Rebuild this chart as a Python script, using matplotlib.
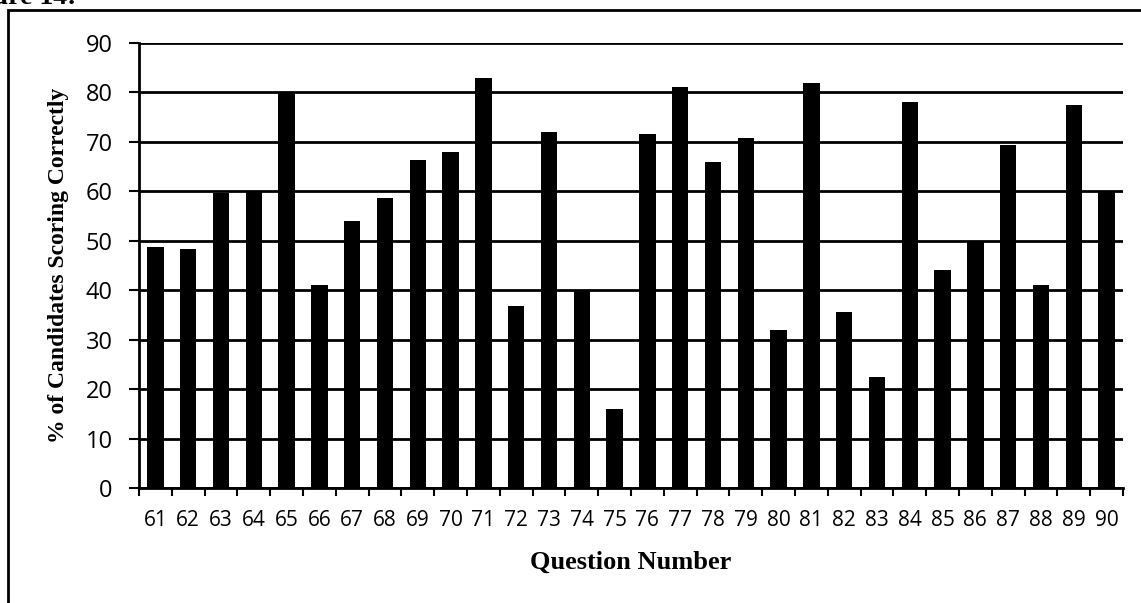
import numpy as np
import matplotlib
matplotlib.use('Agg')
import matplotlib.pyplot as plt
from matplotlib.patches import Rectangle

questions = list(range(61, 91))
pct_correct = [48.8, 48.4, 59.6, 60.1, 80.1, 41.1, 54.1, 58.6, 66.3, 68.0,
               82.9, 36.9, 72.1, 39.8, 16.0, 71.6, 81.1, 65.9, 70.8, 31.9,
               82.0, 35.6, 22.4, 78.0, 44.0, 50.0, 69.3, 41.0, 77.5, 60.1]
y_ticks = list(range(0, 91, 10))

fig = plt.figure(figsize=(11.41, 6.03), dpi=100)
ax = fig.add_axes([0.1218, 0.1907, 0.8624, 0.738])

x = np.arange(len(questions))
ax.bar(x, pct_correct, width=0.5, color='black', zorder=3)

ax.set_xlim(-0.5, len(questions) - 0.5)
ax.set_ylim(0, 90)
ax.set_yticks(y_ticks)
ax.set_yticklabels([str(v) for v in y_ticks], fontsize=17,
                   family=['Open Sans', 'DejaVu Sans'])
ax.set_xticks(x)
ax.set_xticklabels([str(q) for q in questions], fontsize=15,
                   family=['Liberation Sans Narrow', 'Open Sans', 'DejaVu Sans'])
ax.tick_params(axis='x', length=0, pad=16)
ax.set_xticks(np.arange(-0.5, len(questions)), minor=True)
ax.tick_params(axis='x', which='minor', length=6, width=1.5, direction='out')
ax.tick_params(axis='y', length=7, width=1.5, direction='out', pad=12)

ax.yaxis.grid(True, color='black', linewidth=2, zorder=1)
ax.set_axisbelow(True)
for side in ['top', 'right']:
    ax.spines[side].set_visible(False)
ax.spines['left'].set_linewidth(2)
ax.spines['bottom'].set_linewidth(2)

ax.set_xlabel('Question Number', fontsize=19, fontweight='bold',
              family='Liberation Serif', labelpad=14)
ax.set_ylabel('% of Candidates Scoring Correctly', fontsize=17,
              fontweight='bold', family='Liberation Serif', labelpad=12)

# scanned page frame and clipped caption
fig.patches.append(Rectangle((8 / 1141, -0.1), 1.2, 1 - 10 / 603 + 0.1,
                             transform=fig.transFigure, fill=False,
                             edgecolor='black', linewidth=2))
fig.text(-0.04, 0.994, 'Figure 14:', fontsize=20, fontweight='bold',
         family='Liberation Serif', va='baseline', ha='left')

fig.savefig('out.png', dpi=100)
